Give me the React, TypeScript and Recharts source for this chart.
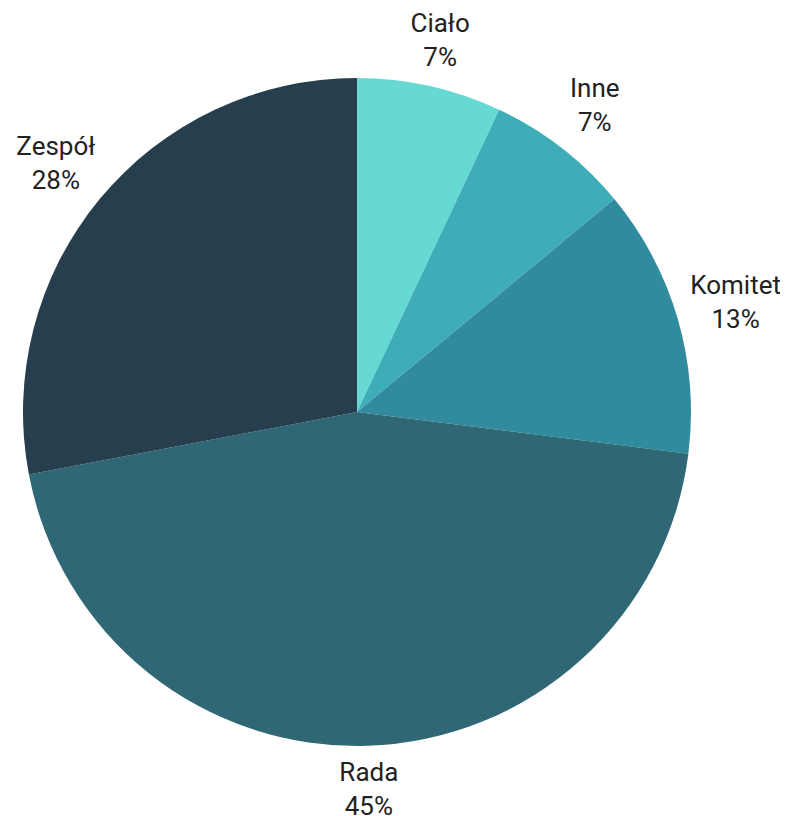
import React from "react";
import { PieChart, Pie, Cell } from "recharts";

const categories = ["Ciało", "Inne", "Komitet", "Rada", "Zespół"];
const values = [7, 7, 13, 45, 28];
const colors = ["#67d9d3", "#3fadb7", "#318b9e", "#2f6774", "#263e4d"];

const data = categories.map((name, i) => ({ name, value: values[i] }));

const RAD = Math.PI / 180;

const renderLabel = (props: any) => {
  const { cx, cy, midAngle, outerRadius, name, percent } = props;
  const a = -midAngle * RAD;
  const dx = Math.cos(a);
  const dy = Math.sin(a);
  const R = outerRadius + 43 + 18 * Math.abs(dx);
  const x = cx + R * dx;
  const y = cy + R * dy;
  return (
    <text
      x={x}
      y={y - 8}
      textAnchor="middle"
      fill="#222222"
      fontSize={26}
      fontFamily="Roboto, sans-serif"
    >
      <tspan x={x} y={y - 8}>{name}</tspan>
      <tspan x={x} y={y + 26}>{`${Math.round(percent * 100)}%`}</tspan>
    </text>
  );
};

export default function App() {
  return (
    <PieChart width={780} height={808} margin={{ top: 0, right: 0, bottom: 0, left: 0 }}>
      <Pie
        data={data}
        dataKey="value"
        nameKey="name"
        cx={349}
        cy={404}
        outerRadius={334}
        startAngle={90}
        endAngle={-270}
        stroke="none"
        labelLine={false}
        label={renderLabel}
        isAnimationActive={false}
      >
        {data.map((d, i) => (
          <Cell key={d.name} fill={colors[i]} />
        ))}
      </Pie>
    </PieChart>
  );
}
